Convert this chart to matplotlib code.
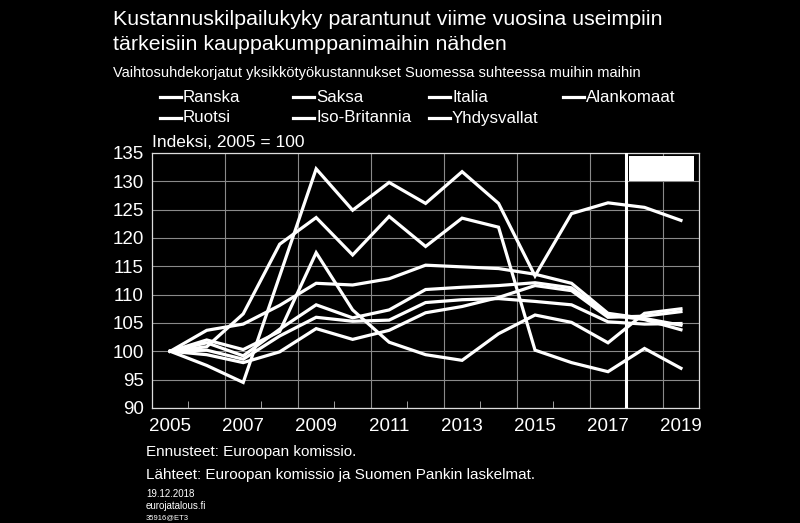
import numpy as np
import matplotlib.pyplot as plt
from matplotlib.lines import Line2D
from matplotlib.patches import Rectangle

plt.rcParams['font.family'] = ['Liberation Sans', 'DejaVu Sans']

# data (Indeksi, 2005 = 100)
years = list(range(2005, 2020))
ranska = [100, 101.5, 99.2, 103.9, 108.2, 105.9, 107.3, 110.9, 111.3, 111.6, 112.1, 111.2, 106.4, 105.6, 103.8]
saksa = [100, 103.7, 104.8, 108.1, 112.0, 111.7, 112.8, 115.2, 114.9, 114.6, 113.6, 112.0, 106.7, 105.8, 104.6]
italia = [100, 100.2, 98.6, 102.7, 106.0, 105.3, 105.5, 108.6, 109.1, 109.3, 108.8, 108.2, 105.2, 104.8, 104.9]
alankomaat = [100, 99.4, 98.0, 99.9, 104.0, 102.1, 103.7, 106.8, 107.9, 109.5, 111.6, 110.7, 106.0, 106.2, 107.0]
ruotsi = [100, 102.0, 100.3, 103.5, 117.4, 107.3, 101.6, 99.4, 98.4, 103.1, 106.4, 105.1, 101.5, 106.7, 107.5]
iso_britannia = [100, 97.5, 94.5, 113.3, 132.2, 124.9, 129.8, 126.1, 131.7, 126.1, 113.3, 124.3, 126.2, 125.4, 123.1]
yhdysvallat = [100, 100.8, 106.6, 118.9, 123.6, 117.0, 123.8, 118.5, 123.5, 121.9, 100.2, 98.0, 96.4, 100.5, 97.0]

names = ['Ranska', 'Saksa', 'Italia', 'Alankomaat', 'Ruotsi', 'Iso-Britannia', 'Yhdysvallat']
series = [ranska, saksa, italia, alankomaat, ruotsi, iso_britannia, yhdysvallat]
forecast_start = 2017.5

fig = plt.figure(figsize=(8, 5.23), dpi=100, facecolor='black')
ax = fig.add_axes([0.19, 0.22, 0.684, 0.4875], facecolor='black')

for vals in series:
    ax.plot(years, vals, color='white', lw=2.3, solid_joinstyle='miter', zorder=3)

# ennusteet alkavat
ax.axvline(forecast_start, color='white', lw=2.2, zorder=4)
ax.add_patch(Rectangle((2017.57, 130.1), 1.8, 4.3, facecolor='white', edgecolor='none', zorder=5))

ax.set_xlim(2004.5, 2019.5)
ax.set_ylim(90, 135)
ax.set_yticks(np.arange(90, 136, 5))
ax.set_xticks(years[::2])
ax.set_xticks([y + 0.5 for y in years[:-1]], minor=True)
ax.yaxis.grid(True, color='#8a8a8a', lw=0.8)
for y in years[1:-1:2]:
    ax.axvline(y + 0.5, color='#8a8a8a', lw=0.8, zorder=1)
ax.set_axisbelow(True)

ax.tick_params(axis='both', which='major', length=0, colors='white', labelsize=13.5)
ax.tick_params(axis='y', pad=6)
ax.tick_params(axis='x', pad=7)
ax.tick_params(axis='x', which='minor', direction='in', length=5, color='#bbbbbb')
for s in ax.spines.values():
    s.set_color('#dddddd')
    s.set_linewidth(0.9)

ax.text(0.0, 1.012, 'Indeksi, 2005 = 100', transform=ax.transAxes, color='white',
        fontsize=12.5, va='bottom', ha='left')

# otsikot
fig.text(0.141, 0.962, 'Kustannuskilpailukyky parantunut viime vuosina useimpiin',
         color='white', fontsize=15.4, va='center')
fig.text(0.141, 0.914, 'tärkeisiin kauppakumppanimaihin nähden',
         color='white', fontsize=15.4, va='center')
fig.text(0.141, 0.860, 'Vaihtosuhdekorjatut yksikkötyökustannukset Suomessa suhteessa muihin maihin',
         color='white', fontsize=10.5, va='center')

# selite, 4 saraketta
col_x = [160, 293, 429, 563]
row_y = [97, 118]
for i, name in enumerate(names):
    r, c = divmod(i, 4)
    x0 = col_x[c] / 800
    y0 = 1 - row_y[r] / 523
    fig.add_artist(Line2D([x0, x0 + 21 / 800], [y0, y0], color='white', lw=2.3))
    fig.text(x0 + 23 / 800, y0, name, color='white', fontsize=12.2, va='center')

# lähteet
fig.text(0.1825, 1 - 452 / 523, 'Ennusteet: Euroopan komissio.', color='white', fontsize=11, va='center')
fig.text(0.1825, 1 - 475 / 523, 'Lähteet: Euroopan komissio ja Suomen Pankin laskelmat.',
         color='white', fontsize=11, va='center')
fig.text(0.1825, 1 - 494 / 523, '19.12.2018', color='white', fontsize=7, va='center')
fig.text(0.1825, 1 - 506 / 523, 'eurojatalous.fi', color='white', fontsize=7, va='center')
fig.text(0.1825, 1 - 518 / 523, '35916@ET3', color='white', fontsize=5.5, va='center')

fig.savefig('out.png', dpi=100, facecolor='black')
